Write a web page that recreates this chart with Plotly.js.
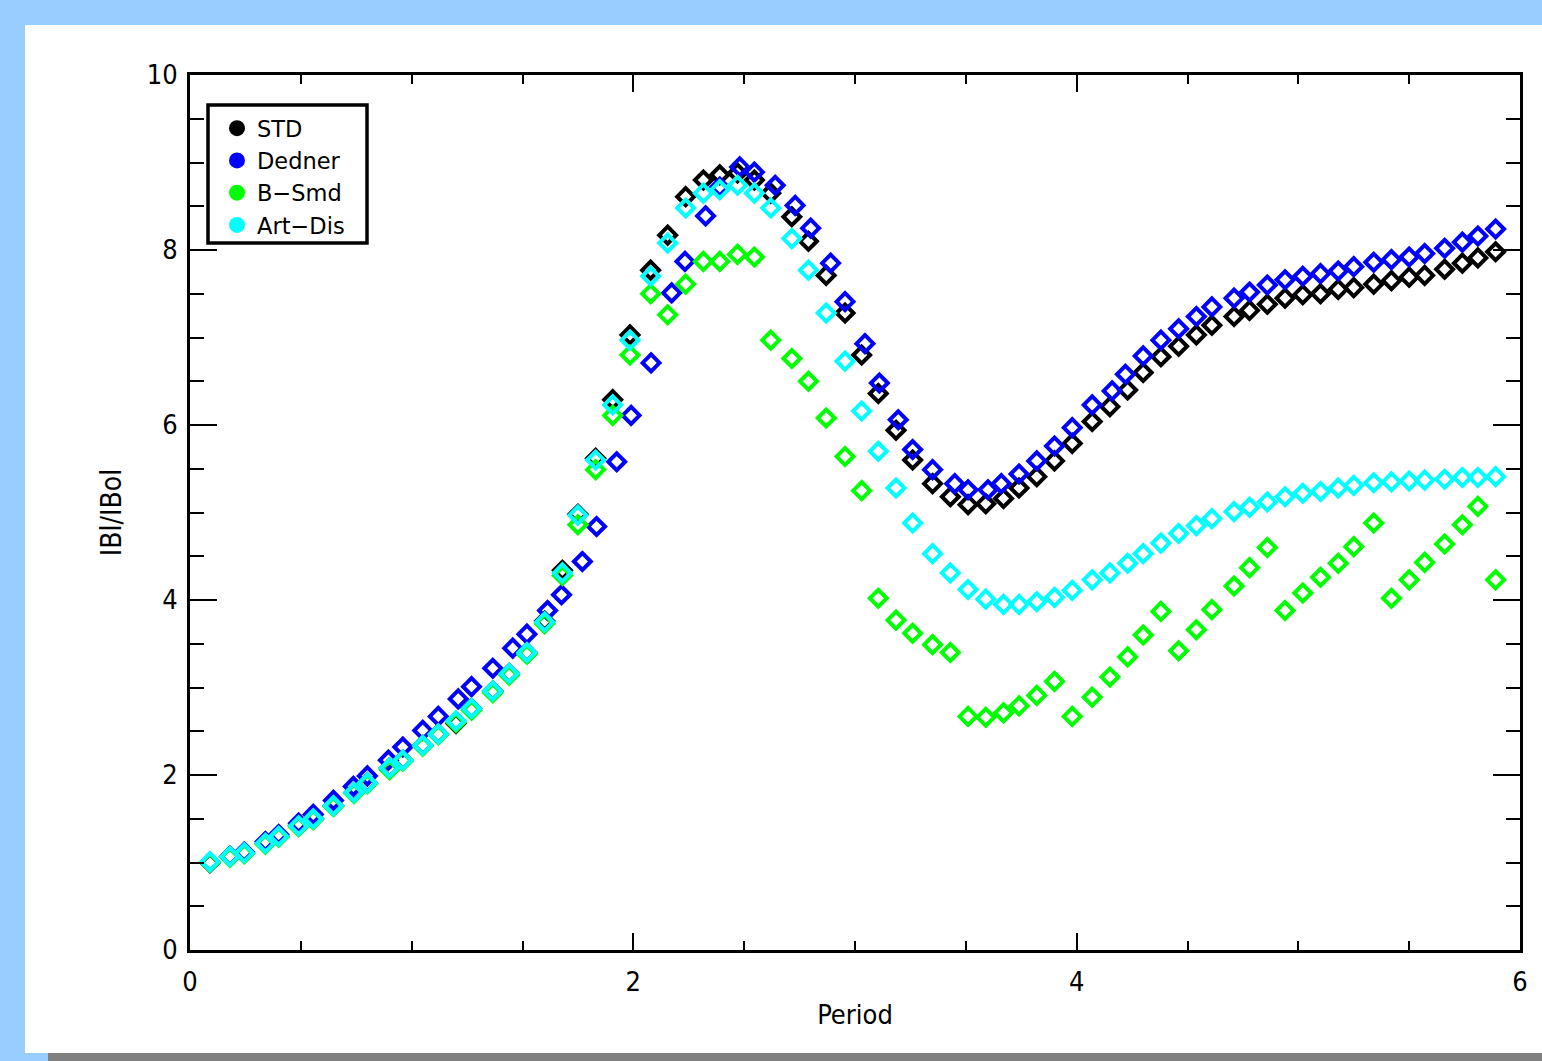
<!DOCTYPE html>
<html>
<head>
<meta charset="utf-8">
<script src="https://cdn.plot.ly/plotly-3.0.1.min.js"></script>
<style>html,body{margin:0;padding:0;background:#99ccff;}#chart{width:1542px;height:1061px;}</style>
</head>
<body>
<div id="chart"></div>
<script>
// Period values (shared grid)
const period = [0.09,0.18,0.245,0.34,0.40,0.49,0.556,0.647,0.74,0.80,0.90,0.96,1.05,1.12,1.20,1.27,1.366,1.44,1.52,1.60,1.68,1.75,1.83,1.907,1.985,2.078,2.155,2.236,2.316,2.39,2.47,2.546,2.62,2.715,2.79,2.87,2.955,3.03,3.105,3.185,3.26,3.35,3.43,3.51,3.59,3.67,3.74,3.82,3.90,3.98,4.07,4.15,4.23,4.30,4.38,4.46,4.54,4.61,4.71,4.78,4.86,4.94,5.02,5.10,5.18,5.25,5.34,5.42,5.50,5.57,5.66,5.74,5.81,5.89];
const periodDedner = [0.09,0.18,0.245,0.34,0.40,0.49,0.556,0.647,0.737,0.80,0.895,0.96,1.05,1.12,1.21,1.27,1.366,1.456,1.52,1.613,1.676,1.77,1.834,1.925,1.99,2.08,2.173,2.233,2.326,2.39,2.48,2.546,2.64,2.73,2.80,2.89,2.955,3.045,3.11,3.195,3.26,3.35,3.45,3.51,3.60,3.66,3.74,3.82,3.90,3.98,4.07,4.16,4.22,4.30,4.38,4.46,4.54,4.61,4.71,4.78,4.86,4.94,5.02,5.10,5.18,5.25,5.34,5.42,5.50,5.57,5.66,5.74,5.81,5.89];

const std = [1.00,1.07,1.11,1.22,1.30,1.42,1.50,1.65,1.80,1.91,2.08,2.17,2.34,2.47,2.59,2.76,2.96,3.16,3.40,3.76,4.34,4.98,5.62,6.29,7.03,7.77,8.17,8.61,8.80,8.86,8.88,8.80,8.65,8.38,8.10,7.71,7.28,6.80,6.36,5.94,5.60,5.33,5.18,5.09,5.10,5.16,5.28,5.41,5.59,5.79,6.04,6.21,6.40,6.60,6.78,6.90,7.03,7.14,7.24,7.31,7.38,7.45,7.49,7.50,7.55,7.57,7.61,7.65,7.69,7.71,7.78,7.85,7.91,7.98];
const dedner = [1.00,1.07,1.12,1.24,1.32,1.45,1.55,1.71,1.87,1.99,2.17,2.32,2.51,2.67,2.87,3.01,3.22,3.45,3.61,3.88,4.06,4.44,4.84,5.58,6.11,6.71,7.51,7.87,8.39,8.72,8.95,8.89,8.74,8.51,8.25,7.85,7.41,6.93,6.48,6.06,5.72,5.49,5.33,5.26,5.26,5.33,5.44,5.59,5.76,5.97,6.23,6.39,6.58,6.79,6.97,7.10,7.24,7.35,7.45,7.52,7.60,7.66,7.70,7.73,7.76,7.81,7.86,7.89,7.92,7.96,8.02,8.09,8.16,8.24];
const bsmd = [1.00,1.06,1.10,1.21,1.29,1.41,1.49,1.64,1.79,1.90,2.06,2.16,2.33,2.46,2.60,2.74,2.94,3.14,3.38,3.73,4.28,4.86,5.49,6.11,6.80,7.50,7.26,7.61,7.87,7.87,7.95,7.92,6.97,6.76,6.50,6.08,5.64,5.25,4.02,3.77,3.62,3.49,3.40,2.67,2.66,2.71,2.79,2.91,3.07,2.67,2.89,3.12,3.35,3.60,3.87,3.42,3.66,3.89,4.16,4.37,4.60,3.88,4.08,4.26,4.42,4.61,4.88,4.02,4.23,4.43,4.64,4.86,5.07,4.23];
const artdis = [1.01,1.07,1.11,1.22,1.30,1.42,1.50,1.65,1.80,1.91,2.08,2.17,2.34,2.47,2.62,2.76,2.96,3.16,3.40,3.75,4.31,4.97,5.60,6.23,6.97,7.70,8.08,8.48,8.65,8.69,8.74,8.65,8.48,8.13,7.77,7.28,6.73,6.16,5.70,5.28,4.88,4.53,4.31,4.12,4.01,3.95,3.95,3.98,4.03,4.11,4.23,4.31,4.42,4.53,4.65,4.76,4.85,4.93,5.01,5.06,5.12,5.18,5.22,5.24,5.28,5.31,5.34,5.35,5.36,5.37,5.38,5.40,5.40,5.41];

const seriesNames = ['STD','Dedner','B\u2212Smd','Art\u2212Dis'];
const seriesColors = ['#000000','#0000ff','#00ff00','#00ffff'];
const seriesX = [period, periodDedner, period, period];
const seriesY = [std, dedner, bsmd, artdis];

const FONT = '"DejaVu Sans Condensed", "DejaVu Sans", sans-serif';
const LFONT = '"DejaVu Sans", sans-serif';
const traces = [];
for (let i = 0; i < 4; i++) {
  traces.push({
    x: seriesX[i], y: seriesY[i], type: 'scatter', mode: 'markers', showlegend: false,
    marker: {symbol: 'diamond-open', size: 13, color: seriesColors[i], line: {width: 4, color: seriesColors[i]}},
    cliponaxis: false
  });
}
for (let i = 0; i < 4; i++) {
  traces.push({
    x: [null], y: [null], type: 'scatter', mode: 'markers', name: seriesNames[i], showlegend: true,
    marker: {symbol: 'circle', size: 16, color: seriesColors[i]}
  });
}

const L = 190, R = 1520, T = 75, B = 950;
const px = p => (p - L) / (R - L);
const py = p => (B - p) / (B - T);

const layout = {
  width: 1542, height: 1061,
  margin: {l: L, r: 1542 - R, t: T, b: 1061 - B},
  paper_bgcolor: '#99ccff', plot_bgcolor: 'rgba(0,0,0,0)',
  font: {family: FONT, size: 27, color: '#000'},
  xaxis: {
    range: [0, 6], dtick: 2, tick0: 0, ticks: 'inside', ticklen: 17, tickwidth: 2, tickcolor: '#000',
    minor: {dtick: 0.5, ticks: 'inside', ticklen: 9, tickwidth: 2, tickcolor: '#000'},
    showline: true, linewidth: 3, linecolor: '#000', mirror: 'ticks', showgrid: false, zeroline: false,
    tickfont: {family: FONT, size: 27}, ticklabelstandoff: 6,
    title: {text: 'Period', font: {family: FONT, size: 27}, standoff: 9}
  },
  yaxis: {
    range: [0, 10], dtick: 2, tick0: 0, ticks: 'inside', ticklen: 27, tickwidth: 2, tickcolor: '#000',
    minor: {dtick: 0.5, ticks: 'inside', ticklen: 14, tickwidth: 2, tickcolor: '#000'},
    showline: true, linewidth: 3, linecolor: '#000', mirror: 'ticks', showgrid: false, zeroline: false,
    tickfont: {family: FONT, size: 27}, ticklabelstandoff: 4,
    title: {text: 'IBl/IBol', font: {family: FONT, size: 28}, standoff: 17}
  },
  legend: {
    x: px(217), y: py(107), xanchor: 'left', yanchor: 'top',
    bgcolor: 'rgba(0,0,0,0)', borderwidth: 0,
    font: {family: LFONT, size: 22.5, color: '#000'}, tracegroupgap: 0, itemwidth: 30
  },
  shapes: [
    {type: 'rect', xref: 'paper', yref: 'paper', layer: 'below',
     x0: px(25), x1: px(1542), y0: py(1053), y1: py(25), fillcolor: '#ffffff', line: {width: 0}},
    {type: 'rect', xref: 'paper', yref: 'paper', layer: 'below',
     x0: px(48), x1: px(1542), y0: py(1061), y1: py(1053), fillcolor: '#808080', line: {width: 0}},
    {type: 'rect', xref: 'paper', yref: 'paper', layer: 'above',
     x0: px(208), x1: px(367), y0: py(243), y1: py(105), fillcolor: 'rgba(255,255,255,0)', line: {width: 3.5, color: '#000'}}
  ]
};

Plotly.newPlot('chart', traces, layout, {displayModeBar: false, staticPlot: true});
</script>
</body>
</html>
